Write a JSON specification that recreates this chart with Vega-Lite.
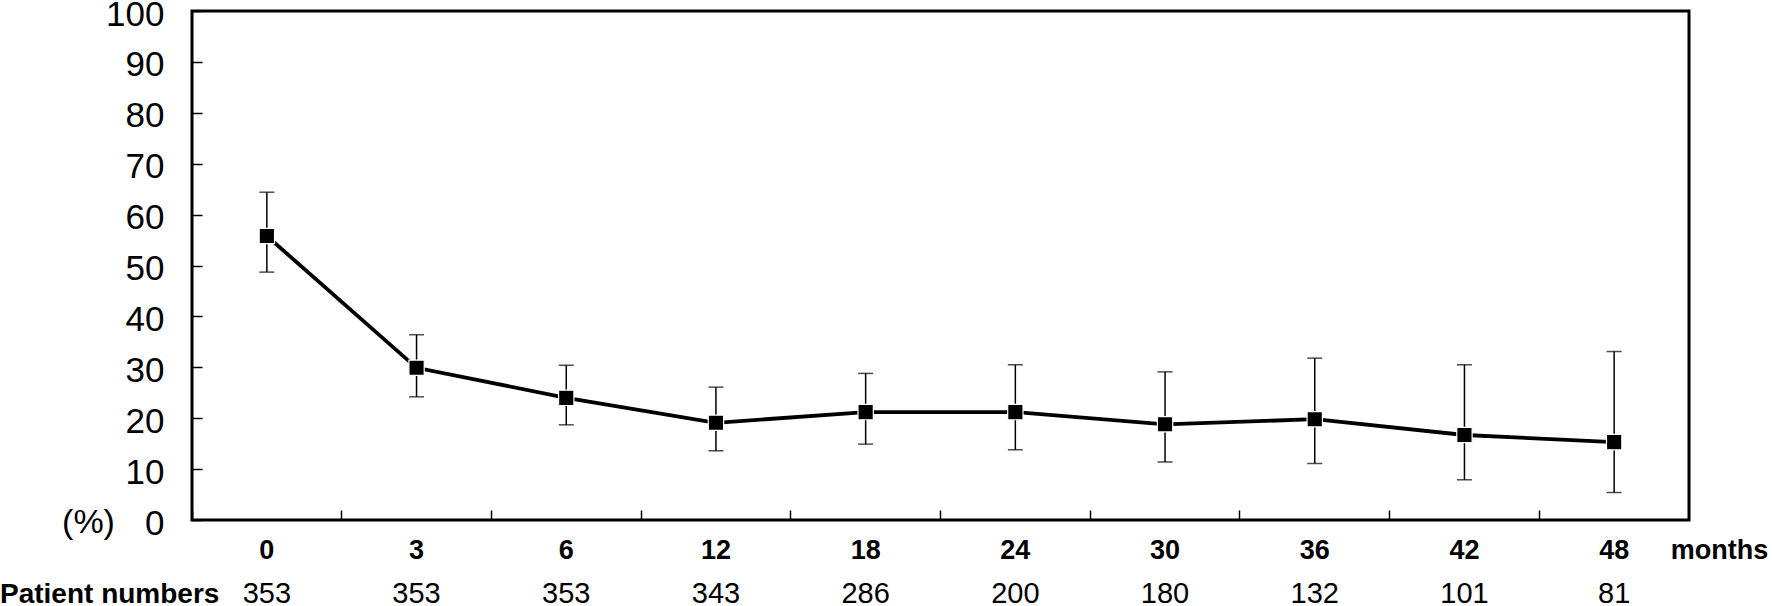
{
  "$schema": "https://vega.github.io/schema/vega-lite/v6.json",
  "width": 1497,
  "height": 509,
  "autosize": "none",
  "padding": {"left": 192, "top": 11, "right": 83, "bottom": 86},
  "background": "white",
  "title": {
    "text": "Patient numbers",
    "orient": "top",
    "anchor": "start",
    "frame": "group",
    "align": "left",
    "baseline": "middle",
    "dx": -192,
    "dy": 630,
    "font": "Liberation Sans",
    "fontSize": 28,
    "fontWeight": "bold",
    "color": "black"
  },
  "config": {
    "view": {"stroke": "black", "strokeWidth": 3},
    "font": "Liberation Sans"
  },
  "data": {
    "values": [
      {"month": "0", "rate": 55.8, "lo": 48.7, "hi": 64.4, "n": 353},
      {"month": "3", "rate": 29.9, "lo": 24.2, "hi": 36.4, "n": 353},
      {"month": "6", "rate": 24.0, "lo": 18.7, "hi": 30.4, "n": 353},
      {"month": "12", "rate": 19.1, "lo": 13.6, "hi": 26.1, "n": 343},
      {"month": "18", "rate": 21.2, "lo": 14.9, "hi": 28.8, "n": 286},
      {"month": "24", "rate": 21.2, "lo": 13.8, "hi": 30.5, "n": 200},
      {"month": "30", "rate": 18.8, "lo": 11.4, "hi": 29.1, "n": 180},
      {"month": "36", "rate": 19.8, "lo": 11.1, "hi": 31.8, "n": 132},
      {"month": "42", "rate": 16.7, "lo": 7.9, "hi": 30.5, "n": 101},
      {"month": "48", "rate": 15.3, "lo": 5.4, "hi": 33.1, "n": 81}
    ]
  },
  "encoding": {
    "x": {
      "field": "month",
      "type": "ordinal",
      "sort": null,
      "scale": {"type": "band", "paddingInner": 0, "paddingOuter": 0},
      "axis": {
        "title": "months",
        "titleX": 1527,
        "titleY": 30,
        "titleAlign": "center",
        "titleBaseline": "middle",
        "titleFont": "Liberation Sans",
        "titleFontSize": 27,
        "titleFontWeight": "bold",
        "titleColor": "black",
        "domain": false,
        "bandPosition": 0,
        "labelAngle": 0,
        "labelFont": "Liberation Sans",
        "labelFontSize": 27,
        "labelFontWeight": "bold",
        "labelColor": "black",
        "labelBaseline": "middle",
        "labelPadding": 40,
        "tickSize": -10,
        "tickWidth": 1.5,
        "tickColor": "black"
      }
    }
  },
  "layer": [
    {
      "mark": {"type": "rule", "color": "black", "strokeWidth": 1.5},
      "encoding": {
        "y": {"field": "lo", "type": "quantitative"},
        "y2": {"field": "hi"}
      }
    },
    {
      "mark": {"type": "tick", "color": "black", "size": 15, "thickness": 1.5, "orient": "horizontal"},
      "encoding": {"y": {"field": "lo", "type": "quantitative"}}
    },
    {
      "mark": {"type": "tick", "color": "black", "size": 15, "thickness": 1.5, "orient": "horizontal"},
      "encoding": {"y": {"field": "hi", "type": "quantitative"}}
    },
    {
      "mark": {"type": "line", "color": "black", "strokeWidth": 3.8},
      "encoding": {
        "y": {
          "field": "rate",
          "type": "quantitative",
          "scale": {"domain": [0, 100], "nice": false},
          "axis": {
            "values": [0, 10, 20, 30, 40, 50, 60, 70, 80, 90, 100],
            "grid": false,
            "domain": false,
            "title": "(%)",
            "titleAngle": 0,
            "titleX": -104,
            "titleY": 511,
            "titleAlign": "center",
            "titleBaseline": "middle",
            "titleFont": "Liberation Sans",
            "titleFontSize": 34,
            "titleFontWeight": "normal",
            "titleColor": "black",
            "labelFont": "Liberation Sans",
            "labelFontSize": 35,
            "labelColor": "black",
            "labelPadding": 38,
            "labelOffset": 3,
            "labelFlush": false,
            "labelOverlap": false,
            "tickSize": -10,
            "tickWidth": 1.5,
            "tickColor": "black"
          }
        }
      }
    },
    {
      "mark": {"type": "point", "shape": "square", "filled": true, "fill": "black", "stroke": "white", "strokeWidth": 1.2, "size": 235, "opacity": 1},
      "encoding": {"y": {"field": "rate", "type": "quantitative"}}
    },
    {
      "mark": {"type": "text", "font": "Liberation Sans", "fontSize": 29, "color": "black", "baseline": "middle", "clip": false},
      "encoding": {
        "y": {"datum": -14.5, "type": "quantitative"},
        "text": {"field": "n", "type": "quantitative"}
      }
    }
  ]
}
